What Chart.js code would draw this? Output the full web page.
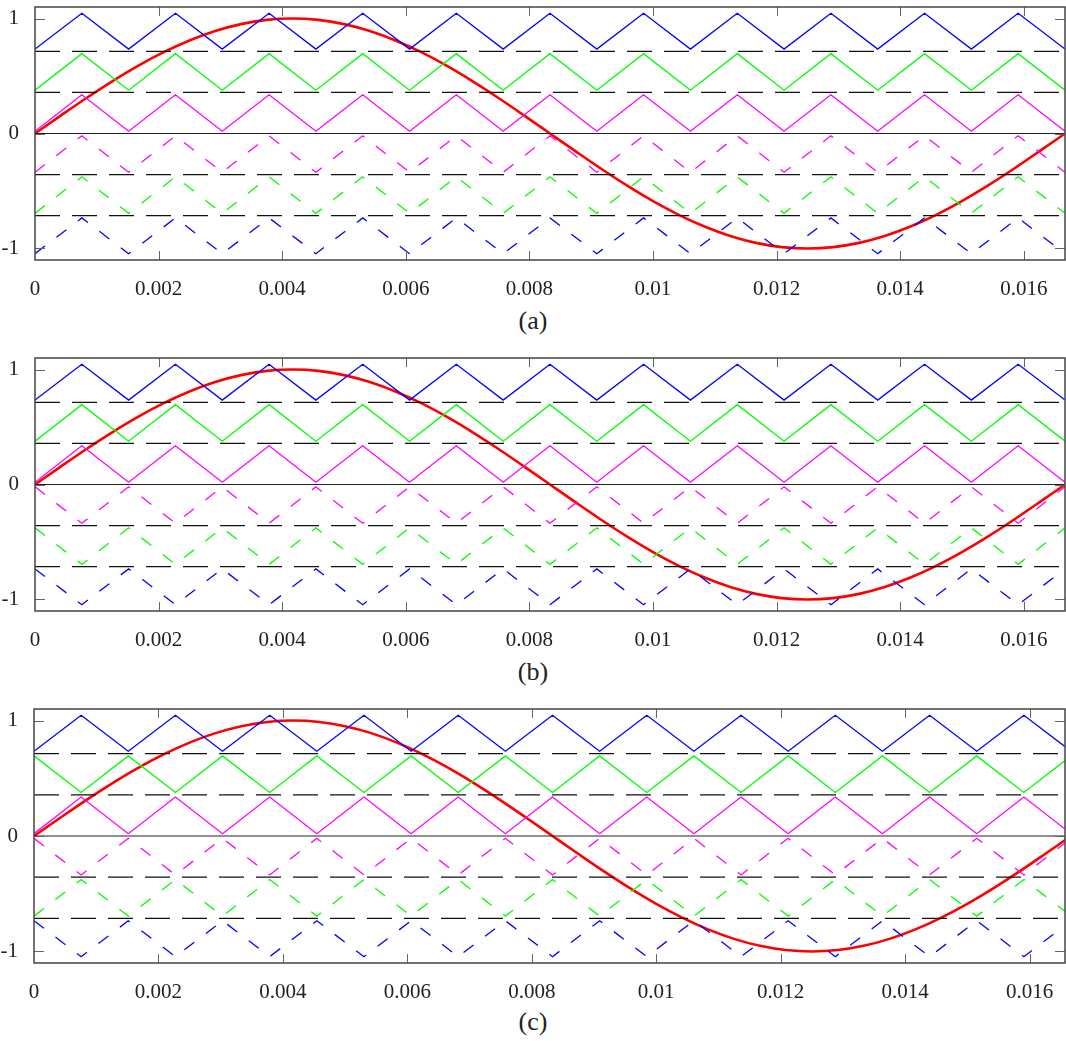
<!DOCTYPE html>
<html>
<head>
<meta charset="utf-8">
<script src="https://cdn.jsdelivr.net/npm/chart.js@4.4.1/dist/chart.umd.min.js"></script>
<style>
  html, body { margin: 0; padding: 0; background: #fff; }
  #wrap { position: relative; width: 1066px; height: 1041px; overflow: hidden; }
  canvas { position: absolute; left: 0; }
  .cap { position: absolute; left: 0; width: 1066px; text-align: center;
         font-family: "Times New Roman", "Liberation Serif", "DejaVu Serif", serif; font-size: 26px;
         line-height: 30px; color: #222; }
</style>
</head>
<body>
<div id="wrap">
  <canvas id="panelA" width="1066" height="300" style="top:0px"></canvas>
  <div class="cap" id="capA" style="top:306px"></div>
  <canvas id="panelB" width="1066" height="300" style="top:350px"></canvas>
  <div class="cap" id="capB" style="top:657px"></div>
  <canvas id="panelC" width="1066" height="300" style="top:700px"></canvas>
  <div class="cap" id="capC" style="top:1007px"></div>
</div>
<script>
// 60 Hz reference wave, sampled every 1/2400 s
const sampleTimes = [
  0, 0.000417, 0.000833, 0.00125, 0.001667, 0.002083, 0.0025, 0.002917, 0.003333, 0.00375,
  0.004167, 0.004583, 0.005, 0.005417, 0.005833, 0.00625, 0.006667, 0.007083, 0.0075, 0.007917,
  0.008333, 0.00875, 0.009167, 0.009583, 0.01, 0.010417, 0.010833, 0.01125, 0.011667, 0.012083,
  0.0125, 0.012917, 0.013333, 0.01375, 0.014167, 0.014583, 0.015, 0.015417, 0.015833, 0.01625,
  0.016667
];
const referenceWave = [
  0, 0.156, 0.309, 0.454, 0.588, 0.707, 0.809, 0.891, 0.951, 0.988,
  1, 0.988, 0.951, 0.891, 0.809, 0.707, 0.588, 0.454, 0.309, 0.156,
  0, -0.156, -0.309, -0.454, -0.588, -0.707, -0.809, -0.891, -0.951, -0.988,
  -1, -0.988, -0.951, -0.891, -0.809, -0.707, -0.588, -0.454, -0.309, -0.156,
  0
];

// Triangle carrier turning points (660 Hz carrier, half-period steps)
const vertexTimes = [
  0, 0.000758, 0.001515, 0.002273, 0.00303, 0.003788, 0.004545, 0.005303,
  0.006061, 0.006818, 0.007576, 0.008333, 0.009091, 0.009848, 0.010606, 0.011364,
  0.012121, 0.012879, 0.013636, 0.014394, 0.015152, 0.015909, 0.016667
];

// Six carriers, top to bottom: lower and upper turning values
const carrierLow  = [0.734, 0.377, 0.02, -0.337, -0.694, -1.045];
const carrierHigh = [1.045, 0.694, 0.337, -0.02, -0.377, -0.734];

// Starting phase of each carrier (0 = starts at its lower value, 1 = at its upper value)
const phaseA = [0, 0, 0, 0, 0, 0];
const phaseB = [0, 0, 0, 1, 1, 1];
const phaseC = [0, 1, 0, 1, 0, 1];

// Band boundaries between carriers
const bandLevels = [0.714, 0.357, -0.357, -0.714];
const zeroLevel = 0;

// Axis ticks and extents
const xTickValues = [0, 0.002, 0.004, 0.006, 0.008, 0.01, 0.012, 0.014, 0.016];
const yTickValues = [-1, 0, 1];
const xMaxA = 0.016667, xMaxB = 0.016667, xMaxC = 0.01657;
const yMin = -1.1, yMax = 1.1;
const captions = ['(a)', '(b)', '(c)'];

// ---- styling ----
const carrierColors = ['#0000ff', '#00ff00', '#ff00ff', '#ff00ff', '#00ff00', '#0000ff'];
const carrierDashed = [false, false, false, true, true, true];
const serif = '"Times New Roman", "Liberation Serif", "DejaVu Serif", serif';

const framePlugin = {
  id: 'frame',
  afterDraw(chart) {
    const { ctx, chartArea: a, scales: { x, y } } = chart;
    ctx.save();
    ctx.strokeStyle = '#666';
    ctx.lineWidth = 1;
    ctx.beginPath();
    x.ticks.forEach(t => {
      const px = Math.round(x.getPixelForValue(t.value)) + 0.5;
      if (px <= a.left + 2 || px >= a.right - 2) return;
      ctx.moveTo(px, a.bottom); ctx.lineTo(px, a.bottom - 9);
      ctx.moveTo(px, a.top); ctx.lineTo(px, a.top + 9);
    });
    y.ticks.forEach(t => {
      const py = Math.round(y.getPixelForValue(t.value)) + 0.5;
      ctx.moveTo(a.left, py); ctx.lineTo(a.left + 10, py);
      ctx.moveTo(a.right, py); ctx.lineTo(a.right - 10, py);
    });
    ctx.stroke();
    ctx.strokeStyle = '#444';
    ctx.lineWidth = 1.5;
    ctx.strokeRect(a.left, a.top, a.right - a.left, a.bottom - a.top);
    ctx.restore();
  }
};

function buildDatasets(phase, xMax) {
  const sets = [];
  // band boundary lines
  bandLevels.forEach(v => {
    sets.push({
      data: [{ x: 0, y: v }, { x: xMax, y: v }],
      borderColor: '#111', borderWidth: 1.2, borderDash: [25, 12]
    });
  });
  sets.push({
    data: [{ x: 0, y: zeroLevel }, { x: xMax, y: zeroLevel }],
    borderColor: '#222', borderWidth: 1.2
  });
  // carriers
  for (let i = 0; i < carrierLow.length; i++) {
    sets.push({
      data: vertexTimes.map((t, k) => ({
        x: t,
        y: ((k + phase[i]) % 2 === 0) ? carrierLow[i] : carrierHigh[i]
      })),
      borderColor: carrierColors[i], borderWidth: 1.3,
      borderDash: carrierDashed[i] ? [12.5, 14.5] : []
    });
  }
  // reference wave
  sets.push({
    data: sampleTimes.map((t, k) => ({ x: t, y: referenceWave[k] })),
    borderColor: '#ff0000', borderWidth: 2.6, cubicInterpolationMode: 'monotone'
  });
  return sets;
}

function makePanel(id, phase, xMax, padTop, axisHeight, yAxisWidth) {
  return new Chart(document.getElementById(id), {
    type: 'scatter',
    data: { datasets: buildDatasets(phase, xMax) },
    options: {
      responsive: false,
      animation: false,
      devicePixelRatio: 1,
      layout: { padding: { top: padTop, right: 1, left: 0, bottom: 0 } },
      showLine: true,
      elements: { point: { radius: 0, hoverRadius: 0 }, line: { tension: 0 } },
      plugins: { legend: { display: false }, tooltip: { enabled: false }, title: { display: false } },
      scales: {
        x: {
          type: 'linear', min: 0, max: xMax,
          afterBuildTicks: s => { s.ticks = xTickValues.map(v => ({ value: v })); },
          afterFit: s => { s.height = axisHeight; s.paddingLeft = 0; s.paddingRight = 0; },
          grid: { display: false }, border: { display: false },
          ticks: {
            padding: 9, color: '#222', maxRotation: 0, autoSkip: false,
            font: { family: serif, size: 21 },
            callback: v => String(+Number(v).toFixed(3))
          }
        },
        y: {
          type: 'linear', min: yMin, max: yMax,
          afterBuildTicks: s => { s.ticks = yTickValues.map(v => ({ value: v })); },
          afterFit: s => { s.width = yAxisWidth; s.paddingTop = 0; s.paddingBottom = 0; },
          grid: { display: false }, border: { display: false },
          ticks: {
            padding: 8, color: '#222',
            font: { family: serif, size: 21 },
            callback: v => String(v)
          }
        }
      }
    },
    plugins: [framePlugin]
  });
}

makePanel('panelA', phaseA, xMaxA, 7, 40, 35);
makePanel('panelB', phaseB, xMaxB, 8, 39, 35);
makePanel('panelC', phaseC, xMaxC, 9, 37, 34);

document.getElementById('capA').textContent = captions[0];
document.getElementById('capB').textContent = captions[1];
document.getElementById('capC').textContent = captions[2];
</script>
</body>
</html>
